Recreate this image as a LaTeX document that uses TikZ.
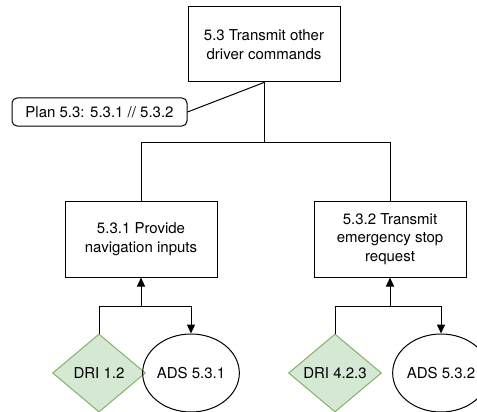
\documentclass[tikz,border=0pt]{standalone}
\usepackage{fontspec}
\setmainfont{TeX Gyre Heros}
\usetikzlibrary{positioning, calc, arrows.meta, shapes.geometric}

\definecolor{drifill}{HTML}{D5E8D4}
\definecolor{dridraw}{HTML}{82B366}

\tikzset{
    taskbox/.style={draw, line width=1pt, minimum width=152pt, minimum height=76pt, align=center,
        font=\fontsize{15}{18.5}\selectfont},
    planbox/.style={draw, line width=1pt, rounded corners=5pt, minimum width=175pt, minimum height=28pt,
        font=\fontsize{15}{18.5}\selectfont},
    drinode/.style={diamond, draw=dridraw, fill=drifill, line width=1pt, aspect=1.18, inner sep=0pt,
        minimum width=93pt, minimum height=78pt, font=\fontsize{15}{18.5}\selectfont},
    adsnode/.style={ellipse, draw, line width=1pt, inner sep=0pt, minimum width=89pt, minimum height=78pt,
        font=\fontsize{15}{18.5}\selectfont},
    flow/.style={line width=1pt, -{Triangle[length=9pt, width=8pt]}}
}

\begin{document}
\begin{tikzpicture}[x=1pt, y=-1pt]
        \useasboundingbox (0,0) rectangle (477,412);

        \node[taskbox, minimum height=75pt] (top) at (264,44.5) {5.3 Transmit other\\driver commands};
        \node[planbox] (plan) at (99.5,112) {Plan 5.3: 5.3.1 // 5.3.2};
        \draw[line width=1pt] (plan.east) -- (top.south);

        \coordinate (split) at (264,142);
        \draw[line width=1pt] (top.south) -- (split);

        \foreach \i/\xt/\xd/\xa/\task/\dri/\ads in {1/141/99/191/{5.3.1 Provide\\navigation inputs}/1.2/5.3.1,
                                                    2/390/335/441/{5.3.2 Transmit\\emergency stop\\request}/4.2.3/5.3.2} {
            \node[taskbox] (t\i) at (\xt,239) {\task};
            \node[drinode] (dri\i) at (\xd,373) {DRI \dri};
            \node[adsnode] (ads\i) at (\xa,373) {ADS \ads};

            \coordinate (j\i) at (\xt,306);
            \draw[line width=1pt] (split) -| (t\i.north);
            \draw[line width=1pt] (dri\i.north) |- (j\i);
            \draw[flow] (j\i) -- (t\i.south);
            \draw[flow] (j\i) -| (ads\i.north);
        }
    \end{tikzpicture}
\end{document}
